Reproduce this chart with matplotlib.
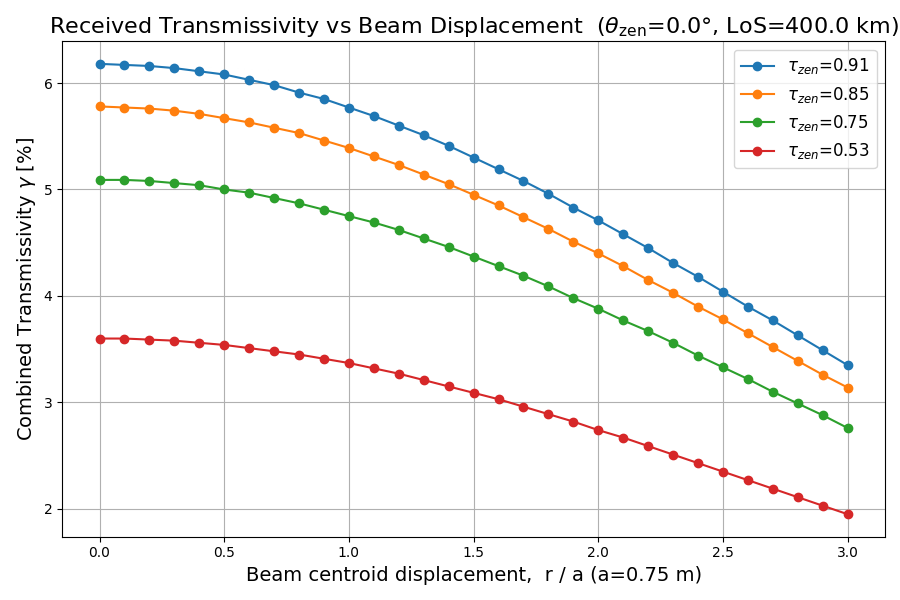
import numpy as np
import matplotlib
matplotlib.use("Agg")
import matplotlib.pyplot as plt

r = [round(0.1*i, 1) for i in range(31)]
taus = ["0.91", "0.85", "0.75", "0.53"]
blue = [6.18,6.17,6.16,6.14,6.11,6.08,6.03,5.98,5.91,5.85,5.77,5.69,5.60,5.51,5.41,5.30,5.19,5.08,4.96,4.83,4.71,4.58,4.45,4.31,4.18,4.04,3.90,3.77,3.63,3.49,3.35]
orange = [5.78,5.77,5.76,5.74,5.71,5.67,5.63,5.58,5.53,5.46,5.39,5.31,5.23,5.14,5.05,4.95,4.85,4.74,4.63,4.51,4.40,4.28,4.15,4.03,3.90,3.78,3.65,3.52,3.39,3.26,3.14]
green = [5.09,5.09,5.08,5.06,5.04,5.00,4.97,4.92,4.87,4.81,4.75,4.69,4.62,4.54,4.46,4.37,4.28,4.19,4.09,3.98,3.88,3.77,3.67,3.56,3.44,3.33,3.22,3.10,2.99,2.88,2.76]
red = [3.60,3.60,3.59,3.58,3.56,3.54,3.51,3.48,3.45,3.41,3.37,3.32,3.27,3.21,3.15,3.09,3.03,2.96,2.89,2.82,2.74,2.67,2.59,2.51,2.43,2.35,2.27,2.19,2.11,2.03,1.95]

fig, ax = plt.subplots(figsize=(9, 6), dpi=100)
for t, ys in zip(taus, [blue, orange, green, red]):
    ax.plot(r, ys, marker='o', label=r'$\tau_{zen}$=' + t)
ax.set_title(r'Received Transmissivity vs Beam Displacement  ($\theta_{\rm zen}$=0.0°, LoS=400.0 km)', fontsize=16)
ax.set_xlabel('Beam centroid displacement,  r / a (a=0.75 m)', fontsize=14)
ax.set_ylabel(r'Combined Transmissivity $\gamma$ [%]', fontsize=14)
ax.grid(True)
ax.legend(fontsize=12, loc='upper right')
fig.tight_layout()
fig.savefig('out.png')
